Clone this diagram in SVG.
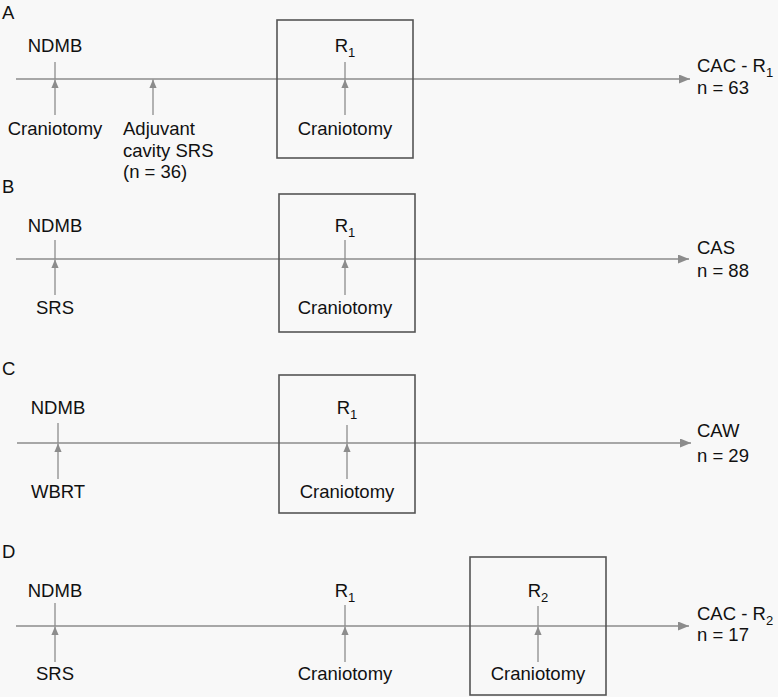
<svg xmlns="http://www.w3.org/2000/svg" width="778" height="697" viewBox="0 0 778 697">
<style>
text{font-family:"Liberation Sans",Arial,sans-serif;font-size:18.5px;fill:#111}
.c{text-anchor:middle}
.sub{font-size:13px}
.tl{stroke:#8c8c8c;stroke-width:1.5;fill:none}
.tk{stroke:#8c8c8c;stroke-width:1.3;fill:none}
.box{stroke:#555;stroke-width:1.6;fill:none}
</style>
<defs>
<marker id="big" markerUnits="userSpaceOnUse" markerWidth="12" markerHeight="10" refX="11" refY="4.5" orient="auto"><path d="M0,0 L11,4.5 L0,9 z" fill="#8c8c8c"/></marker>
<marker id="sm" markerUnits="userSpaceOnUse" markerWidth="10" markerHeight="8" refX="8.5" refY="3.6" orient="auto"><path d="M0,0 L8.5,3.6 L0,7.2 z" fill="#8c8c8c"/></marker>
</defs>
<rect width="778" height="697" fill="#f8f8f8"/>

<g id="connectors">
<line class="tl" x1="16" y1="79" x2="690" y2="79" marker-end="url(#big)"/>
<line class="tk" x1="55" y1="62" x2="55" y2="79"/>
<line class="tk" x1="55" y1="115" x2="55" y2="79.5" marker-end="url(#sm)"/>
<line class="tk" x1="153" y1="115" x2="153" y2="79.5" marker-end="url(#sm)"/>
<line class="tk" x1="345" y1="62" x2="345" y2="79"/>
<line class="tk" x1="345" y1="115" x2="345" y2="79.5" marker-end="url(#sm)"/>

<line class="tl" x1="16" y1="259" x2="689" y2="259" marker-end="url(#big)"/>
<line class="tk" x1="55" y1="240" x2="55" y2="259"/>
<line class="tk" x1="55" y1="295" x2="55" y2="259.5" marker-end="url(#sm)"/>
<line class="tk" x1="345" y1="240" x2="345" y2="259"/>
<line class="tk" x1="345" y1="295" x2="345" y2="259.5" marker-end="url(#sm)"/>

<line class="tl" x1="17" y1="443" x2="691" y2="443" marker-end="url(#big)"/>
<line class="tk" x1="58" y1="423" x2="58" y2="443"/>
<line class="tk" x1="58" y1="479" x2="58" y2="443.5" marker-end="url(#sm)"/>
<line class="tk" x1="347" y1="425" x2="347" y2="443"/>
<line class="tk" x1="347" y1="479" x2="347" y2="443.5" marker-end="url(#sm)"/>

<line class="tl" x1="16" y1="626" x2="689" y2="626" marker-end="url(#big)"/>
<line class="tk" x1="55" y1="603" x2="55" y2="626"/>
<line class="tk" x1="55" y1="662" x2="55" y2="626.5" marker-end="url(#sm)"/>
<line class="tk" x1="345" y1="605" x2="345" y2="626"/>
<line class="tk" x1="345" y1="662" x2="345" y2="626.5" marker-end="url(#sm)"/>
<line class="tk" x1="538" y1="606" x2="538" y2="626"/>
<line class="tk" x1="538" y1="662" x2="538" y2="626.5" marker-end="url(#sm)"/>
</g>

<g id="panelA">
<text x="2" y="19">A</text>
<g id="A-ndmb"><text class="c" x="55" y="52">NDMB</text><text class="c" x="55" y="135">Craniotomy</text></g>
<g id="A-adj"><text x="123" y="135">Adjuvant</text><text x="123" y="157">cavity SRS</text><text x="123" y="178">(n = 36)</text></g>
<g id="A-r1"><rect class="box" x="277" y="20" width="136" height="138"/><text class="c" x="345" y="52">R<tspan class="sub" dy="5">1</tspan></text><text class="c" x="345" y="135">Craniotomy</text></g>
<g id="A-out"><text x="697" y="72">CAC - R<tspan class="sub" dy="5">1</tspan></text><text x="697" y="94">n = 63</text></g>
</g>

<g id="panelB">
<text x="2" y="193">B</text>
<g id="B-ndmb"><text class="c" x="55" y="232">NDMB</text><text class="c" x="55" y="314">SRS</text></g>
<g id="B-r1"><rect class="box" x="279" y="194" width="136" height="138"/><text class="c" x="345" y="232">R<tspan class="sub" dy="5">1</tspan></text><text class="c" x="345" y="314">Craniotomy</text></g>
<g id="B-out"><text x="697" y="254">CAS</text><text x="697" y="277">n = 88</text></g>
</g>

<g id="panelC">
<text x="2" y="375">C</text>
<g id="C-ndmb"><text class="c" x="58" y="414">NDMB</text><text class="c" x="58" y="498">WBRT</text></g>
<g id="C-r1"><rect class="box" x="279" y="375" width="136" height="138"/><text class="c" x="347" y="414">R<tspan class="sub" dy="5">1</tspan></text><text class="c" x="347" y="498">Craniotomy</text></g>
<g id="C-out"><text x="697" y="437">CAW</text><text x="697" y="462">n = 29</text></g>
</g>

<g id="panelD">
<text x="2" y="558">D</text>
<g id="D-ndmb"><text class="c" x="55" y="597">NDMB</text><text class="c" x="55" y="680">SRS</text></g>
<g id="D-r1"><text class="c" x="345" y="597">R<tspan class="sub" dy="5">1</tspan></text><text class="c" x="345" y="680">Craniotomy</text></g>
<g id="D-r2"><rect class="box" x="470" y="557" width="136" height="138"/><text class="c" x="538" y="597">R<tspan class="sub" dy="5">2</tspan></text><text class="c" x="538" y="680">Craniotomy</text></g>
<g id="D-out"><text x="697" y="620">CAC - R<tspan class="sub" dy="5">2</tspan></text><text x="697" y="641">n = 17</text></g>
</g>
</svg>
